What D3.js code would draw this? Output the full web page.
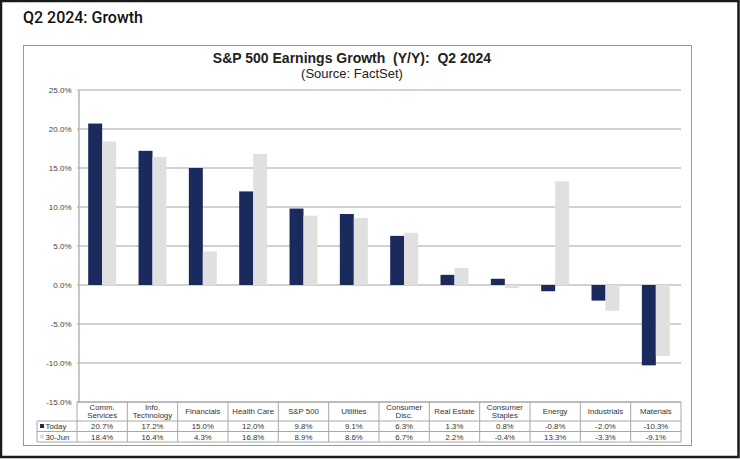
<!DOCTYPE html>
<html>
<head>
<meta charset="utf-8">
<script src="https://cdn.jsdelivr.net/npm/d3@7"></script>
<style>
  body { margin: 0; background: #fff; }
  svg { display: block; font-family: "Liberation Sans", Arial, sans-serif; }
</style>
</head>
<body>
<script>
// data
var categories = ['Comm.|Services', 'Info.|Technology', 'Financials', 'Health Care', 'S&P 500', 'Utilities',
    'Consumer|Disc.', 'Real Estate', 'Consumer|Staples', 'Energy', 'Industrials', 'Materials']
var seriesNames = ['Today', '30-Jun']
var todayValues = [20.7, 17.2, 15.0, 12.0, 9.8, 9.1, 6.3, 1.3, 0.8, -0.8, -2.0, -10.3]
var juneValues = [18.4, 16.4, 4.3, 16.8, 8.9, 8.6, 6.7, 2.2, -0.4, 13.3, -3.3, -9.1]
var yTicks = [25, 20, 15, 10, 5, 0, -5, -10, -15]

var colors = { 'Today': '#1b2a5c', '30-Jun': '#e0e0e0' }

var width = 740, height = 459
var plot = { left: 77, right: 681, top: 90, bottom: 402 }

function pct(d) { return d.toFixed(1) + '%' }

var svg = d3.select('body').append('svg')
    .attr('width', width)
    .attr('height', height)

// outer dark border of the screenshot
svg.append('rect')
    .attr('x', 1).attr('y', 1)
    .attr('width', width - 2.5).attr('height', height - 3)
    .attr('fill', 'none').attr('stroke', '#1a1a1a').attr('stroke-width', 2.5)

svg.append('text')
    .attr('x', 23).attr('y', 23)
    .attr('textLength', 120)
    .attr('lengthAdjust', 'spacingAndGlyphs')
    .style('font-family', 'Roboto, "Liberation Sans", sans-serif')
    .style('font-size', '16px')
    .style('font-weight', '500')
    .attr('fill', '#111')
    .text('Q2 2024: Growth')

// chart frame
svg.append('rect')
    .attr('x', 23.5).attr('y', 45.5)
    .attr('width', 668).attr('height', 400)
    .attr('fill', '#fff').attr('stroke', '#9a9a9a').attr('stroke-width', 1)

svg.append('text')
    .attr('x', 352).attr('y', 63)
    .attr('text-anchor', 'middle')
    .style('font-size', '14px').style('font-weight', 'bold')
    .style('white-space', 'pre')
    .attr('fill', '#222')
    .text('S&P 500 Earnings Growth  (Y/Y):  Q2 2024')

svg.append('text')
    .attr('x', 352).attr('y', 78)
    .attr('text-anchor', 'middle')
    .style('font-size', '13px')
    .attr('fill', '#222')
    .text('(Source: FactSet)')

var y = d3.scaleLinear().domain([-15, 25]).range([plot.bottom, plot.top])
var x0 = d3.scaleBand().domain(categories).range([plot.left, plot.right])
var x1 = d3.scaleBand().domain(seriesNames).range([0, x0.bandwidth()]).paddingOuter(0.8)

// gridlines
svg.append('g').selectAll('line')
    .data(yTicks)
    .enter().append('line')
    .attr('x1', plot.left).attr('x2', plot.right)
    .attr('y1', d => y(d)).attr('y2', d => y(d))
    .attr('stroke', '#c2c2c2').attr('stroke-width', 1.4)

// y axis
var yAxis = svg.append('g')
    .attr('transform', 'translate(' + (plot.left + 1.5) + ',0)')
    .call(d3.axisLeft(y).tickValues(yTicks).tickSize(0).tickPadding(7).tickFormat(pct))
yAxis.select('.domain').attr('stroke', '#b0b0b0').attr('stroke-width', 1.4)
yAxis.selectAll('text')
    .style('font-size', '8px')
    .style('font-family', '"Liberation Sans", Arial, sans-serif')
    .attr('fill', '#444')

// bars
var rows = categories.map((c, i) => ({ cat: c, values: [
    { name: 'Today', value: todayValues[i] },
    { name: '30-Jun', value: juneValues[i] }] }))

var groups = svg.append('g').selectAll('g')
    .data(rows)
    .enter().append('g')
    .attr('transform', d => 'translate(' + x0(d.cat) + ',0)')

groups.selectAll('rect')
    .data(d => d.values)
    .enter().append('rect')
    .attr('x', d => x1(d.name))
    .attr('width', x1.bandwidth())
    .attr('y', d => y(Math.max(0, d.value)))
    .attr('height', d => Math.abs(y(d.value) - y(0)))
    .attr('fill', d => colors[d.name])

// data table under the chart
var table = { headTop: 402, headBottom: 421, rowH: 10.5, legendLeft: 37 }
var tbl = svg.append('g')
var lineColor = '#a8a8a8'

var rowTops = [table.headBottom, table.headBottom + table.rowH]
var tableBottom = table.headBottom + 2 * table.rowH

tbl.append('line')
    .attr('x1', plot.left).attr('x2', plot.right)
    .attr('y1', table.headTop).attr('y2', table.headTop)
    .attr('stroke', lineColor)
;[table.headBottom, table.headBottom + table.rowH, tableBottom].forEach(function (yy) {
    tbl.append('line')
        .attr('x1', table.legendLeft).attr('x2', plot.right)
        .attr('y1', yy).attr('y2', yy)
        .attr('stroke', lineColor)
})
tbl.append('line')
    .attr('x1', table.legendLeft).attr('x2', table.legendLeft)
    .attr('y1', table.headBottom).attr('y2', tableBottom)
    .attr('stroke', lineColor)

tbl.selectAll('.col-line')
    .data(categories.concat(['end']))
    .enter().append('line')
    .attr('class', 'col-line')
    .attr('x1', (d, i) => plot.left + i * x0.step())
    .attr('x2', (d, i) => plot.left + i * x0.step())
    .attr('y1', table.headTop).attr('y2', tableBottom)
    .attr('stroke', lineColor)

// header labels
tbl.selectAll('.head')
    .data(categories)
    .enter().append('text')
    .attr('class', 'head')
    .attr('text-anchor', 'middle')
    .style('font-size', '7.8px')
    .attr('fill', '#333')
    .each(function (d) {
        var parts = d.split('|')
        var t = d3.select(this)
        var cx = x0(d) + x0.bandwidth() / 2
        var startY = parts.length === 1 ? 414 : 410
        parts.forEach(function (p, i) {
            t.append('tspan').attr('x', cx).attr('y', startY + i * 8).text(p)
        })
    })

// value rows
var seriesValues = [todayValues, juneValues]
seriesValues.forEach(function (vals, r) {
    tbl.selectAll('.val' + r)
        .data(vals)
        .enter().append('text')
        .attr('class', 'val' + r)
        .attr('x', (d, i) => x0(categories[i]) + x0.bandwidth() / 2)
        .attr('y', rowTops[r] + 8)
        .attr('text-anchor', 'middle')
        .style('font-size', '7.8px')
        .attr('fill', '#333')
        .text(pct)

    tbl.append('rect')
        .attr('x', table.legendLeft + 3).attr('y', rowTops[r] + 3)
        .attr('width', 4).attr('height', 4)
        .attr('fill', colors[seriesNames[r]])
    tbl.append('text')
        .attr('x', table.legendLeft + 8.5).attr('y', rowTops[r] + 8)
        .style('font-size', '7.8px')
        .attr('fill', '#333')
        .text(seriesNames[r])
})
</script>
</body>
</html>
